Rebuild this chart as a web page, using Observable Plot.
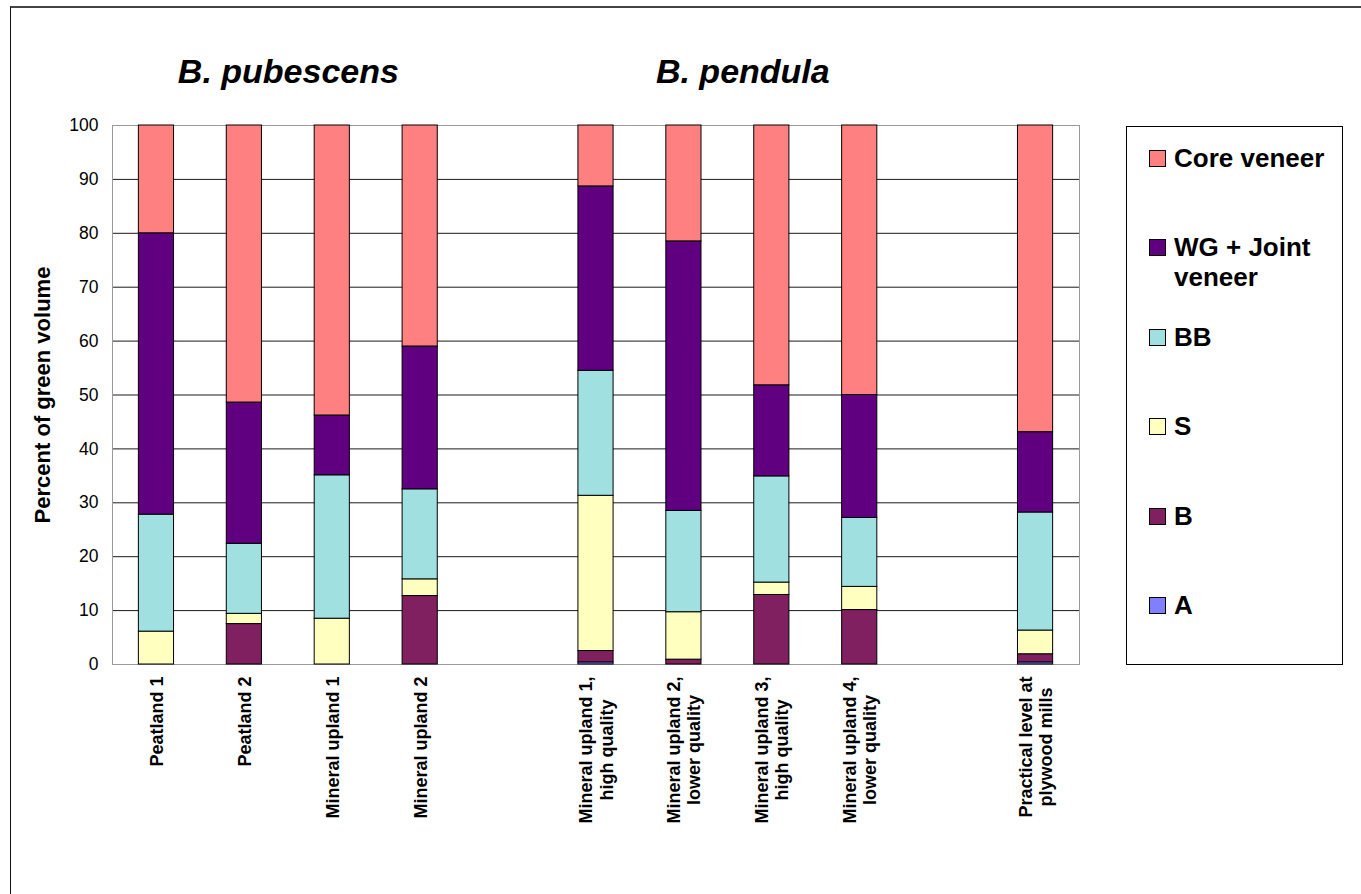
<!DOCTYPE html>
<html><head><meta charset="utf-8">
<script src="https://cdn.jsdelivr.net/npm/d3@7"></script>
<script src="https://cdn.jsdelivr.net/npm/@observablehq/plot@0.6"></script>
<style>
body{margin:0;background:#fff;font-family:"Liberation Sans",Arial,sans-serif;}
#wrap{position:relative;width:1361px;height:894px;overflow:hidden;background:#fff;}
#border{position:absolute;left:10px;top:6px;width:1400px;height:1000px;border-left:1.5px solid #111;border-top:2px solid #444;}
#chart{position:absolute;left:0;top:0;}
#legend{position:absolute;left:1126px;top:126px;width:217px;height:539px;border:1px solid #000;box-sizing:border-box;background:#fff;}
.item{position:absolute;left:22px;display:flex;align-items:flex-start;font-weight:bold;font-size:26px;line-height:30px;color:#000;}
.sw{width:15px;height:15px;border:1px solid #000;margin-top:7px;margin-right:8px;flex:none;}
.lab{width:165px;}
</style></head><body>
<div id="wrap"><div id="border"></div><div id="chart"></div><div id="legend"></div></div>
<script>
// Categories (left to right), with two empty slots as in the original chart
const categories = [
  "Peatland 1", "Peatland 2", "Mineral upland 1", "Mineral upland 2",
  "Mineral upland 1,\nhigh quality", "Mineral upland 2,\nlower quality",
  "Mineral upland 3,\nhigh quality", "Mineral upland 4,\nlower quality",
  "Practical level at\nplywood mills"
];
const gapSlots = ["gap1", "gap2"];
const xDomain = [
  categories[0], categories[1], categories[2], categories[3], gapSlots[0],
  categories[4], categories[5], categories[6], categories[7], gapSlots[1],
  categories[8]
];

// Series (bottom to top of each stack)
const series = ["A", "B", "S", "BB", "WG + Joint veneer", "Core veneer"];
const seriesColors = ["#8080ff", "#802060", "#ffffc0", "#a0e0e0", "#600080", "#ff8080"];

// Percent of green volume per category (segment values)
const valA    = [0,    0,    0,    0,    0.4,  0,    0,    0,    0.4];
const valB    = [0,    7.5,  0,    12.7, 2.1,  0.9,  12.9, 10.1, 1.5];
const valS    = [6.1,  1.9,  8.5,  3.1,  28.8, 8.8,  2.3,  4.3,  4.4];
const valBB   = [21.7, 13.0, 26.6, 16.7, 23.2, 18.8, 19.7, 12.8, 21.9];
const valWG   = [52.2, 26.2, 11.1, 26.5, 34.2, 50.0, 16.9, 22.8, 14.9];
const valCore = [20.0, 51.4, 53.8, 41.0, 11.3, 21.5, 48.2, 50.0, 56.9];
const seriesValues = [valA, valB, valS, valBB, valWG, valCore];

const yTicks = [0, 10, 20, 30, 40, 50, 60, 70, 80, 90, 100];
const yTitle = "Percent of green volume";
const groupTitles = ["B. pubescens", "B. pendula"];
const legendOrder = ["Core veneer", "WG + Joint veneer", "BB", "S", "B", "A"];

const rows = [];
categories.forEach((c, i) => {
  series.forEach((s, j) => {
    const v = seriesValues[j][i];
    if (v > 0) rows.push({cat: c, grade: s, value: v});
  });
});

const chart = Plot.plot({
  width: 1361,
  height: 894,
  marginLeft: 112,
  marginRight: 282,
  marginTop: 125,
  marginBottom: 230,
  style: {fontFamily: "'Liberation Sans', Arial, sans-serif", fontSize: "17.5px", background: "transparent", color: "#000", overflow: "visible"},
  x: {domain: xDomain, paddingInner: 0.6, paddingOuter: 0.3, round: false, label: null},
  y: {domain: [0, 100], label: null},
  color: {domain: series, range: seriesColors},
  marks: [
    Plot.gridY(yTicks, {stroke: "#1a1a1a", strokeOpacity: 1, strokeWidth: 1}),
    Plot.frame({stroke: "#999"}),
    Plot.barY(rows, {x: "cat", y: "value", fill: "grade", stroke: "#000", strokeWidth: 1, order: series}),
    Plot.axisY(yTicks, {tickSize: 0, tickPadding: 14, line: true, label: null, fontSize: 17.5}),
    Plot.axisX(categories, {tickSize: 0, tickPadding: 12, rotate: -90, textAnchor: "end", lineAnchor: "middle", lineHeight: 1.12, line: true, label: null, fontWeight: "bold", fontSize: 18}),
    Plot.text([yTitle], {text: d => d, frameAnchor: "left", dx: -70, rotate: -90, textAnchor: "middle", lineAnchor: "middle", fontSize: 22, fontWeight: "bold"}),
    Plot.text([{label: groupTitles[0], at: categories[1]}], {x: "at", text: "label", frameAnchor: "top", dx: 44, dy: -43, lineAnchor: "bottom", fontSize: 34, fontWeight: "bold", fontStyle: "italic"}),
    Plot.text([{label: groupTitles[1], at: categories[6]}], {x: "at", text: "label", frameAnchor: "top", dx: -29, dy: -43, lineAnchor: "bottom", fontSize: 34, fontWeight: "bold", fontStyle: "italic"})
  ]
});
document.getElementById("chart").append(chart);

// center the lines of two-line tick labels on each other
chart.querySelectorAll('g[aria-label="x-axis tick label"] text').forEach(t => {
  const spans = t.querySelectorAll("tspan");
  if (spans.length < 2) return;
  const lens = Array.from(spans, s => s.getComputedTextLength());
  const L = Math.max(...lens);
  spans.forEach((s, i) => s.setAttribute("x", -(L - lens[i]) / 2));
});

// legend
const legend = document.getElementById("legend");
legendOrder.forEach((name, i) => {
  const item = document.createElement("div");
  item.className = "item";
  item.style.top = (31 + i * 89.4 - 15) + "px";
  const sw = document.createElement("div");
  sw.className = "sw";
  sw.style.background = seriesColors[series.indexOf(name)];
  const lab = document.createElement("div");
  lab.className = "lab";
  lab.textContent = name;
  item.append(sw, lab);
  legend.append(item);
});
</script>
</body></html>
